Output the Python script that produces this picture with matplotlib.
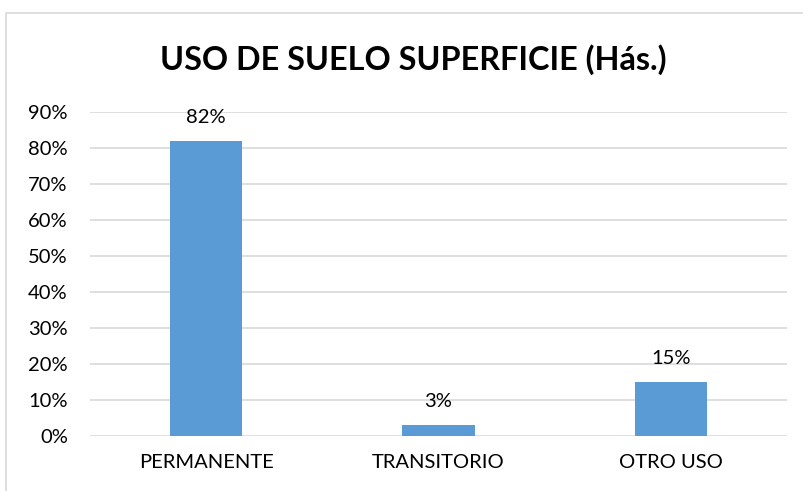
import matplotlib
matplotlib.use("Agg")
import matplotlib.pyplot as plt
from matplotlib.patches import Rectangle
from matplotlib.ticker import FuncFormatter

categories = ["PERMANENTE", "TRANSITORIO", "OTRO USO"]
values = [0.82, 0.03, 0.15]
labels = ["82%", "3%", "15%"]

plt.rcParams['font.family'] = ['Lato', 'DejaVu Sans']

fig = plt.figure(figsize=(8.04, 4.91), dpi=100)
ax = fig.add_axes([90/804, 55/491, (787-90)/804, (436-112)/491])

x = range(len(categories))
bars = ax.bar(x, values, width=0.31, color="#5B9BD5", zorder=3)
ax.set_xlim(-0.5, len(categories) - 0.5)
ax.set_ylim(0, 0.9)
ax.set_yticks([i / 10 for i in range(10)])
ax.yaxis.set_major_formatter(FuncFormatter(lambda v, p: f"{round(v*100)}%"))
ax.set_xticks(list(x))
ax.set_xticklabels(categories)
ax.tick_params(axis='both', length=0, labelsize=14.5, colors="#000000")
ax.tick_params(axis='y', pad=16)
ax.tick_params(axis='x', pad=13)
ax.grid(axis='y', color="#D9D9D9", linewidth=1.2, zorder=0)
for s in ax.spines.values():
    s.set_visible(False)

for b, lab in zip(bars, labels):
    ax.annotate(lab, (b.get_x() + b.get_width() / 2, b.get_height()),
                xytext=(0, 11), textcoords="offset points", ha="center",
                va="bottom", fontsize=14.5)

fig.text(413/804, 1 - 60/491, "USO DE SUELO SUPERFICIE (Hás.)", ha="center",
         va="center", fontsize=23.3, fontweight="bold")

fig.patches.append(Rectangle((6/804, -0.1), 1.2, 1 - 13/491 + 0.1,
                             transform=fig.transFigure, fill=False,
                             edgecolor="#D9D9D9", linewidth=1.2))

fig.savefig("out.png", dpi=100)
